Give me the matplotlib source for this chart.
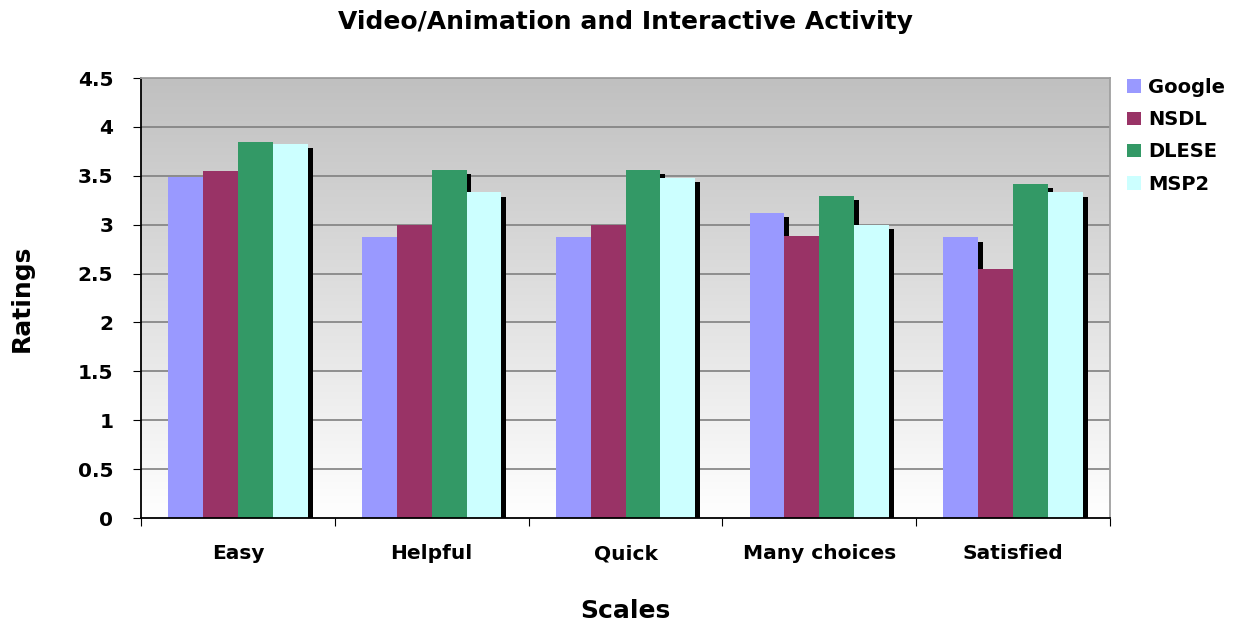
import numpy as np
import matplotlib
matplotlib.use('Agg')
import matplotlib.pyplot as plt
import matplotlib.patheffects as pe

# data
categories = ['Easy', 'Helpful', 'Quick', 'Many choices', 'Satisfied']
series_names = ['Google', 'NSDL', 'DLESE', 'MSP2']
google = [3.49, 2.87, 2.87, 3.12, 2.87]
nsdl = [3.55, 3.00, 3.00, 2.88, 2.55]
dlese = [3.85, 3.56, 3.56, 3.29, 3.42]
msp2 = [3.83, 3.33, 3.48, 3.00, 3.33]
colors = ['#9999ff', '#993366', '#339966', '#ccffff']
yticks = [0, 0.5, 1, 1.5, 2, 2.5, 3, 3.5, 4, 4.5]
ytick_labels = ['0', '0.5', '1', '1.5', '2', '2.5', '3', '3.5', '4', '4.5']

plt.rcParams['font.family'] = 'DejaVu Sans'
plt.rcParams['font.weight'] = 'bold'

fig = plt.figure(figsize=(12.34, 6.25), dpi=100)
ax = fig.add_axes([0.1143, 0.1712, 0.7852, 0.704])

n_cat = len(categories)
x = np.arange(n_cat)
width = 0.18

# gradient background: gray at top, white at bottom
grad = np.linspace(0, 1, 256).reshape(-1, 1)
ax.imshow(grad, extent=[-0.5, n_cat - 0.5, 0, 4.5], aspect='auto',
          cmap=matplotlib.colors.LinearSegmentedColormap.from_list('bg', ['#ffffff', '#c0c0c0']),
          origin='lower', zorder=0)

for v in yticks[1:]:
    ax.axhline(v, color='#808080', lw=1.2, zorder=1)

shadow = [pe.SimplePatchShadow(offset=(3.5, -3), shadow_rgbFace='black', alpha=1.0), pe.Normal()]
all_vals = [google, nsdl, dlese, msp2]
for i, (name, vals) in enumerate(zip(series_names, all_vals)):
    bars = ax.bar(x + (i - 1.5) * width, vals, width, color=colors[i], label=name,
                  zorder=2 + i, linewidth=0)
    for b in bars:
        b.set_path_effects(shadow)

ax.set_xlim(-0.5, n_cat - 0.5)
ax.set_ylim(0, 4.5)
ax.set_yticks(yticks)
ax.set_yticklabels(ytick_labels, fontsize=14.5, fontweight='bold')
ax.set_xticks(np.arange(n_cat + 1) - 0.5, minor=False)
ax.set_xticklabels([''] * (n_cat + 1))
ax.set_xticks(x, minor=True)
ax.set_xticklabels(categories, minor=True, fontsize=14.5, fontweight='bold')
ax.tick_params(axis='x', which='minor', length=0, pad=19)
ax.tick_params(axis='x', which='major', length=6, direction='out', color='black')
ax.tick_params(axis='y', length=6, direction='out', color='black', pad=14)

ax.spines['left'].set_color('black')
ax.spines['bottom'].set_color('black')
ax.spines['top'].set_color('#a0a0a0')
ax.spines['right'].set_color('#a0a0a0')
for s in ax.spines.values():
    s.set_linewidth(1.3)
    s.set_zorder(10)

ax.set_title('Video/Animation and Interactive Activity', fontsize=18, fontweight='bold', pad=35)
ax.set_xlabel('Scales', fontsize=18, fontweight='bold', labelpad=26)
ax.set_ylabel('Ratings', fontsize=18, fontweight='bold', labelpad=32)

leg = ax.legend(loc='upper left', bbox_to_anchor=(1.0, 1.04), frameon=False,
                prop={'size': 14, 'weight': 'bold'}, handlelength=0.7, handleheight=0.7,
                handletextpad=0.35, labelspacing=0.68)
for h in leg.legend_handles:
    h.set_path_effects([pe.Normal()])

fig.savefig('out.png', dpi=100)
